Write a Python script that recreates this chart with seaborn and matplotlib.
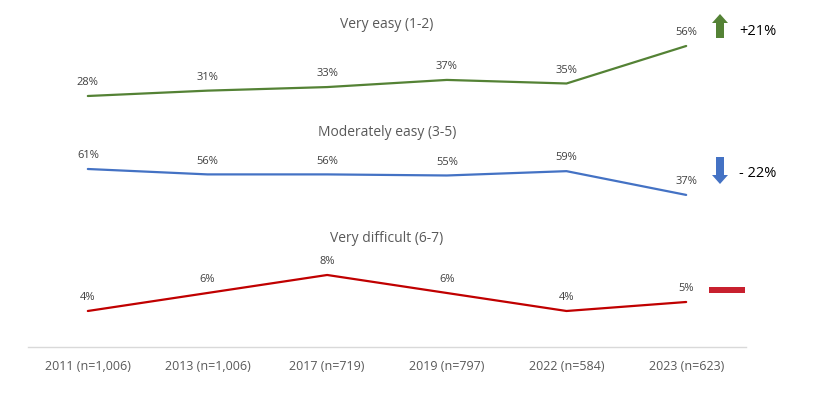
import numpy as np
import pandas as pd
import seaborn as sns
import matplotlib.pyplot as plt
from matplotlib.patches import FancyArrow, Rectangle

# data
years = ['2011 (n=1,006)', '2013 (n=1,006)', '2017 (n=719)',
         '2019 (n=797)', '2022 (n=584)', '2023 (n=623)']
very_easy = [28, 31, 33, 37, 35, 56]
moderately_easy = [61, 56, 56, 55, 59, 37]
very_difficult = [4, 6, 8, 6, 4, 5]
titles = ['Very easy (1-2)', 'Moderately easy (3-5)', 'Very difficult (6-7)']
changes = ['+21%', '- 22%', '']

sns.set_style('white')
plt.rcParams['font.family'] = ['Open Sans', 'DejaVu Sans']

W, H = 813, 417
fig = plt.figure(figsize=(W / 100, H / 100), dpi=100)

def px_axes(top, bottom):
    return fig.add_axes([28 / W, 1 - bottom / H, 718 / W, (bottom - top) / H])

panels = [
    (very_easy, '#548235', (20, 110), (20.16, 70.55), 25),
    (moderately_easy, '#4472C4', (140, 210), (23.04, 87.85), 133),
    (very_difficult, '#C00000', (255, 347), (0, 10.22), 238),
]

for i, (vals, color, (top, bot), ylim, title_y) in enumerate(panels):
    ax = px_axes(top, bot)
    df = pd.DataFrame({'x': np.arange(len(years)), 'y': vals})
    sns.lineplot(data=df, x='x', y='y', color=color, linewidth=1.6, ax=ax)
    ax.set_xlim(-0.5, len(years) - 0.5)
    ax.set_ylim(*ylim)
    ax.set_yticks([])
    ax.set_xlabel('')
    ax.set_ylabel('')
    for x, v in zip(df['x'], df['y']):
        ax.annotate(f'{v}%', (x, v), xytext=(0, 9.5), textcoords='offset points',
                    ha='center', va='center', fontsize=8, color='#404040')
    for s in ax.spines.values():
        s.set_visible(False)
    ax.patch.set_alpha(0)
    if i < 2:
        ax.set_xticks([])
    else:
        ax.set_xticks(df['x'])
        ax.set_xticklabels(years, fontsize=9, color='#595959')
        ax.tick_params(axis='x', length=0, pad=9)
        ax.spines['bottom'].set_visible(True)
        ax.spines['bottom'].set_color('#D9D9D9')
        ax.spines['bottom'].set_linewidth(1)
    fig.text(387 / W, 1 - title_y / H, titles[i], ha='center', va='center',
             fontsize=10, color='#595959')

# overlay for change markers
ov = fig.add_axes([0, 0, 1, 1])
ov.set_xlim(0, W)
ov.set_ylim(H, 0)
ov.axis('off')
ov.patch.set_alpha(0)
ov.add_patch(FancyArrow(720, 38, 0, -15, width=8, head_width=16, head_length=9,
                        length_includes_head=False, color='#548235', lw=0))
ov.add_patch(FancyArrow(720, 157, 0, 18, width=8, head_width=16, head_length=9,
                        length_includes_head=False, color='#4472C4', lw=0))
ov.add_patch(Rectangle((709, 287), 36, 6, color='#C8202F', lw=0))
ov.text(739, 31, changes[0], ha='left', va='center', fontsize=10.5, color='black')
ov.text(739, 173, changes[1], ha='left', va='center', fontsize=10.5, color='black')

fig.savefig('out.png', dpi=100)
